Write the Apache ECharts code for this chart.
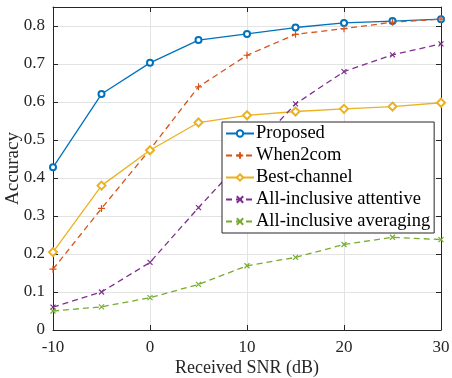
<!DOCTYPE html>
<html><head><meta charset="utf-8">
<script src="https://cdn.jsdelivr.net/npm/echarts@6/dist/echarts.min.js"></script>
<style>html,body{margin:0;padding:0;background:#fff}#c{width:452px;height:378px}</style>
</head><body><div id="c"></div>
<script>
const snr = [-10, -5, 0, 5, 10, 15, 20, 25, 30];
const proposed = [0.428, 0.621, 0.703, 0.763, 0.779, 0.796, 0.808, 0.813, 0.818];
const when2com = [0.160, 0.320, 0.475, 0.640, 0.723, 0.778, 0.793, 0.810, 0.818];
const bestChannel = [0.205, 0.380, 0.473, 0.546, 0.565, 0.575, 0.582, 0.588, 0.598];
const attentive = [0.060, 0.100, 0.178, 0.322, 0.460, 0.595, 0.680, 0.724, 0.753];
const averaging = [0.050, 0.061, 0.085, 0.120, 0.169, 0.191, 0.225, 0.244, 0.238];
const xTicks = [-10, 0, 10, 20, 30];
const yTicks = [0, 0.1, 0.2, 0.3, 0.4, 0.5, 0.6, 0.7, 0.8];
const names = ['Proposed', 'When2com', 'Best-channel', 'All-inclusive attentive', 'All-inclusive averaging'];

const font = 'Liberation Serif';
const plusPath = 'path://M5,0L5,10M0,5L10,5';
const xPath = 'path://M0,0L10,10M0,10L10,0';

function mk(name, data, color, dashed, symbol, size) {
  return {
    name, type: 'line', data: snr.map((x, i) => [x, data[i]]),
    symbol, symbolSize: size,
    lineStyle: { color, width: 1.3, type: dashed ? [6, 4] : 'solid' },
    itemStyle: { color: symbol.startsWith('path') ? 'none' : color, borderColor: color, borderWidth: 1.2 },
    emphasis: { disabled: true }, animation: false
  };
}

const chart = echarts.init(document.getElementById('c'));
function axisCommon() {
  return {
    axisLine: { show: true, onZero: false, lineStyle: { color: '#262626', width: 1 } },
    axisTick: { show: true, inside: true, length: 5, lineStyle: { color: '#262626' } },
  };
}
chart.setOption({
  animation: false,
  grid: { left: 53, right: 11, top: 7, bottom: 48, show: false, containLabel: false, outerBoundsMode: 'none' },
  xAxis: [
    Object.assign({
      type: 'value', min: -10, max: 30, interval: 10, position: 'bottom',
      name: 'Received SNR (dB)', nameLocation: 'middle', nameGap: 29, nameMoveOverlap: false,
      nameTextStyle: { fontFamily: font, fontSize: 18, color: '#262626' },
      axisLabel: { fontFamily: font, fontSize: 17, color: '#262626', margin: 9,
        formatter: v => xTicks.includes(v) ? String(v) : '' },
      splitLine: { show: true, lineStyle: { color: '#e3e3e3', width: 1 } }
    }, axisCommon()),
    Object.assign({
      type: 'value', min: -10, max: 30, interval: 10, position: 'top',
      axisLabel: { show: false }, splitLine: { show: false }
    }, axisCommon())
  ],
  yAxis: [
    Object.assign({
      type: 'value', min: 0, max: 0.85, interval: 0.1, position: 'left',
      name: 'Accuracy', nameLocation: 'middle', nameGap: 30, nameMoveOverlap: false,
      nameTextStyle: { fontFamily: font, fontSize: 19, color: '#262626' },
      axisLabel: { fontFamily: font, fontSize: 17, color: '#262626', margin: 8,
        formatter: v => { const t = yTicks.find(y => Math.abs(y - v) < 1e-6); return t === undefined ? '' : (t === 0 ? '0' : t.toFixed(1)); } },
      splitLine: { show: true, lineStyle: { color: '#e3e3e3', width: 1 } }
    }, axisCommon()),
    Object.assign({
      type: 'value', min: 0, max: 0.85, interval: 0.1, position: 'right',
      axisLabel: { show: false }, splitLine: { show: false }
    }, axisCommon())
  ],
  legend: {
    orient: 'vertical', left: 222, top: 122, width: 210,
    backgroundColor: '#fff', borderColor: '#262626', borderWidth: 1,
    padding: [2, 4, 2, 3], itemGap: 3, itemWidth: 28, itemHeight: 8,
    textStyle: { fontFamily: font, fontSize: 18.5, color: '#000', padding: [0, 0, 0, -3] },
    data: names
  },
  series: [
    mk(names[0], proposed, '#0072BD', false, 'emptyCircle', 6),
    mk(names[1], when2com, '#D95319', true, plusPath, 7),
    mk(names[2], bestChannel, '#EDB120', false, 'emptyDiamond', 8),
    mk(names[3], attentive, '#7E2F8E', true, xPath, 5),
    mk(names[4], averaging, '#77AC30', true, xPath, 5)
  ]
});
</script></body></html>
